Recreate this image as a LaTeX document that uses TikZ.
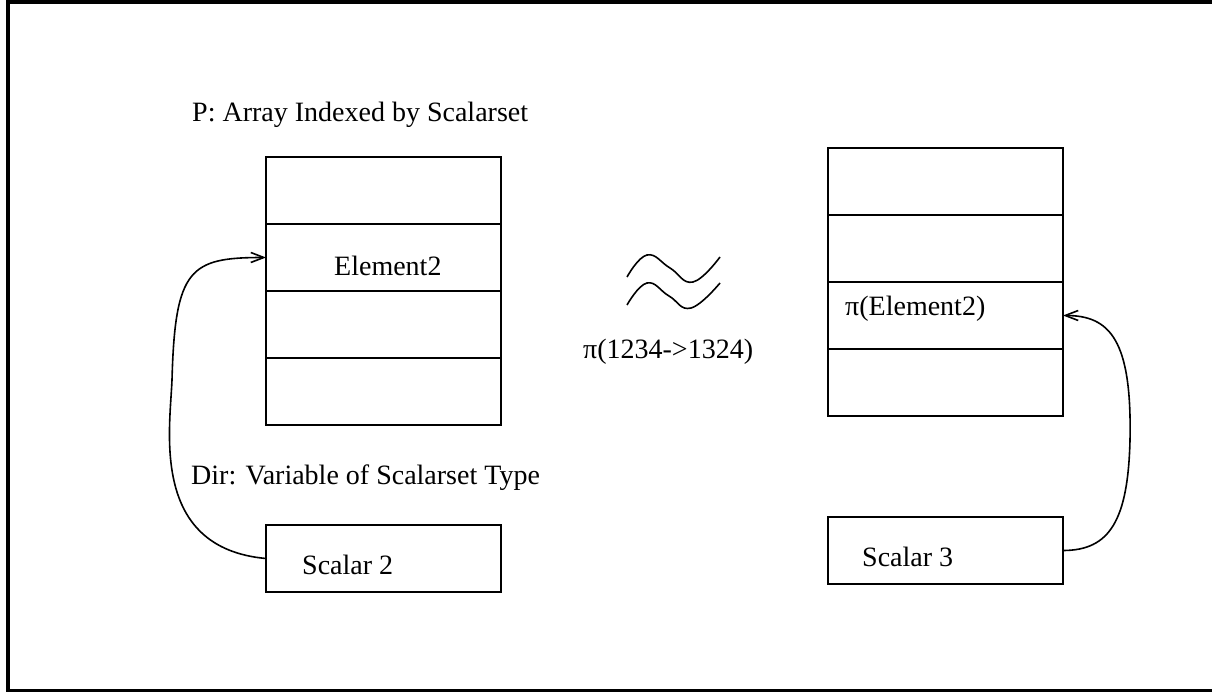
\documentclass[tikz,border=0pt]{standalone}
\usepackage{fontspec}
\setmainfont{Liberation Serif}
\usetikzlibrary{arrows.meta}
\begin{document}
\begin{tikzpicture}[x=1pt,y=-1pt,
  cell/.style={draw,line width=1.6pt,minimum width=235pt,minimum height=67pt,inner sep=0pt,outer sep=0pt},
  lbl/.style={anchor=base west,inner sep=0pt,font=\fontsize{28}{33}\selectfont},
  link/.style={line width=1.6pt,-{Straight Barb[length=13pt,width=10pt,line width=1.6pt]}},
  wave/.style={line width=1.6pt}]
\useasboundingbox (0,0) rectangle (1212,692);
\draw[line width=4pt] (1240,2.5) -- (7.5,2.5) -- (7.5,691) -- (1240,691);
% left array
\node[cell] (L1) at (383.5,190.5) {};
\node[cell] (L2) at (383.5,257.5) {};
\node[cell] (L3) at (383.5,324.5) {};
\node[cell] (L4) at (383.5,391.5) {};
% right array
\node[cell] (R1) at (945.5,181.5) {};
\node[cell] (R2) at (945.5,248.5) {};
\node[cell] (R3) at (945.5,315.5) {};
\node[cell] (R4) at (945.5,382.5) {};
% scalar boxes
\node[cell] (S2) at (383.5,558.5) {};
\node[cell] (S3) at (945.5,550.5) {};
% labels
\node[lbl] (tP) at (192,122) {P: Array Indexed by Scalarset};
\node[lbl] (tE) at (334,276) {Element2};
\node[lbl] (tPE) at (845,316) {π(Element2)};
\node[lbl] (tPi) at (583,358) {π(1234->1324)};
\node[lbl] (tD) at (191,484) {Dir: Variable of Scalarset Type};
\node[lbl] (tS2) at (302,574) {Scalar 2};
\node[lbl] (tS3) at (862,566) {Scalar 3};
% approx sign
\draw[wave] plot[smooth,tension=0.75] coordinates {(627,277) (647,255) (670,268) (693,282) (720,257)};
\draw[wave] plot[smooth,tension=0.75] coordinates {(627,305) (647,283) (669,296) (691,308) (720,283)};
% arrows
\draw[link] (S2.west) .. controls (150,548) and (170,430) .. (172,380)
  .. controls (175,268) and (190,257.5) .. (L2.west);
\draw[link] (S3.east) .. controls (1110,550.5) and (1128,520) .. (1130,440)
  .. controls (1132,340) and (1110,315.5) .. (R3.east);
\end{tikzpicture}
\end{document}
